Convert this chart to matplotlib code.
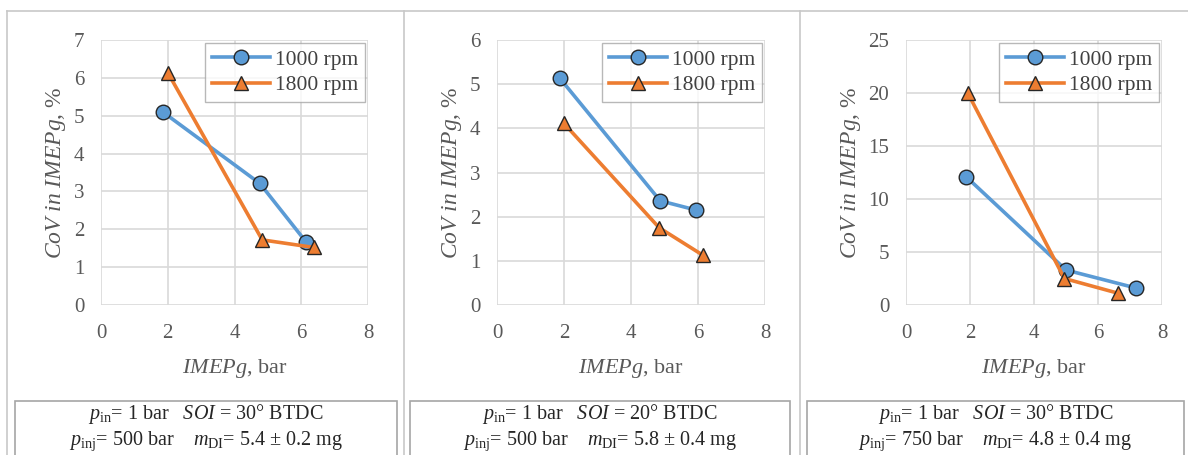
import matplotlib
matplotlib.use("Agg")
import matplotlib.pyplot as plt
from matplotlib.lines import Line2D
from matplotlib.patches import Rectangle

plt.rcParams["font.family"] = ["Liberation Serif", "DejaVu Serif"]
plt.rcParams["mathtext.fontset"] = "custom"
plt.rcParams["mathtext.rm"] = "Liberation Serif"
plt.rcParams["mathtext.it"] = "Liberation Serif:italic"

# IMEPg (bar) and CoV (%)
x_1000_a = [1.85, 4.76, 6.14]
y_1000_a = [5.10, 3.21, 1.67]
x_1800_a = [2.00, 4.83, 6.38]
y_1800_a = [6.14, 1.72, 1.52]

x_1000_b = [1.88, 4.87, 5.94]
y_1000_b = [5.13, 2.36, 2.15]
x_1800_b = [2.00, 4.84, 6.14]
y_1800_b = [4.11, 1.75, 1.13]

x_1000_c = [1.88, 5.00, 7.19]
y_1000_c = [12.1, 3.3, 1.6]
x_1800_c = [1.93, 4.95, 6.64]
y_1800_c = [20.0, 2.5, 1.1]

y_limits = [7, 6, 25]
y_steps = [1, 1, 5]
x_ticks = [0, 2, 4, 6, 8]

captions = [
    ("30", "500", "5.4", "0.2"),
    ("20", "500", "5.8", "0.4"),
    ("30", "750", "4.8", "0.4"),
]

BLUE = "#5b9bd5"
ORANGE = "#ed7d31"
EDGE = "#262626"
GRID = "#d9d9d9"
FRAME = "#c8c8c8"

fig = plt.figure(figsize=(11.88, 4.55), dpi=100)
W, H = 1188, 455

panels = [
    (x_1000_a, y_1000_a, x_1800_a, y_1800_a),
    (x_1000_b, y_1000_b, x_1800_b, y_1800_b),
    (x_1000_c, y_1000_c, x_1800_c, y_1800_c),
]
ax_px = [(101, 368), (497, 765), (906, 1162)]
box_px = [(15, 397), (410, 790), (807, 1184)]

for i, (xa, ya, xb, yb) in enumerate(panels):
    l, r = ax_px[i]
    ax = fig.add_axes([l / W, (H - 305) / H, (r - l) / W, 265 / H])
    ax.plot(xa, ya, color=BLUE, lw=2.6, marker="o", ms=10.5,
            mfc=BLUE, mec=EDGE, mew=1.0, label="1000 rpm", zorder=3)
    ax.plot(xb, yb, color=ORANGE, lw=2.6, marker="^", ms=10.5,
            mfc=ORANGE, mec=EDGE, mew=1.0, label="1800 rpm", zorder=3)
    ax.set_xlim(0, 8)
    ax.set_ylim(0, y_limits[i])
    ax.set_xticks(x_ticks)
    ax.set_yticks(range(0, y_limits[i] + 1, y_steps[i]))
    ax.grid(True, color=GRID, lw=1.2)
    ax.set_axisbelow(True)
    for s in ax.spines.values():
        s.set_visible(False)
    ax.tick_params(length=0, labelsize=15, labelcolor="#595959")
    ax.tick_params(axis="x", pad=14)
    ax.tick_params(axis="y", pad=12)
    ax.set_xlabel(r"$\mathit{IMEPg}$, bar", fontsize=16, color="#595959", labelpad=10)
    ax.set_ylabel(r"$\mathit{CoV\ in\ IMEPg}$, %", fontsize=17, color="#595959", labelpad=4)
    leg = ax.legend(loc="upper right", fontsize=15.5, frameon=True, fancybox=False,
                    edgecolor="#a6a6a6", borderaxespad=0.15, handlelength=2.7,
                    labelspacing=0.25, borderpad=0.3, handletextpad=0.25)
    leg.get_frame().set_linewidth(1.0)
    for t in leg.get_texts():
        t.set_color("#404040")

    # caption box below each chart
    bl, br = box_px[i]
    fig.add_artist(Rectangle((bl / W, -0.05), (br - bl) / W, (H - 401) / H + 0.05,
                             transform=fig.transFigure, fill=False,
                             edgecolor="#a6a6a6", lw=1.2))
    soi, pinj, mdi, err = captions[i]
    cx = (bl + br) / 2 / W
    fig.text(cx, (H - 414) / H,
             r"$p_{\mathrm{in}}$= 1 bar   $SOI$ = " + soi + "° BTDC",
             ha="center", va="center", fontsize=14.5, color="#262626")
    fig.text(cx, (H - 441) / H,
             r"$p_{\mathrm{inj}}$= " + pinj + r" bar    $m_{\mathrm{DI}}$= " + mdi + " ± " + err + " mg",
             ha="center", va="center", fontsize=14.5, color="#262626")

# outer panel frame
fig.add_artist(Line2D([7 / W, 1], [(H - 11) / H] * 2, color=FRAME, lw=1.2))
for xp in [7, 404, 800]:
    fig.add_artist(Line2D([xp / W] * 2, [0, (H - 11) / H], color=FRAME, lw=1.2))

fig.savefig("out.png", dpi=100)
